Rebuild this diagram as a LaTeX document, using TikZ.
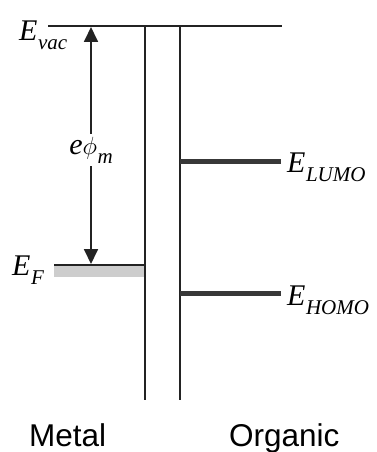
\documentclass[tikz,border=0pt]{standalone}
\usepackage{fontspec}
\setmainfont{Liberation Serif}
\setsansfont{Liberation Sans}
\usetikzlibrary{arrows.meta, positioning, calc}
\definecolor{lineclr}{RGB}{35, 35, 35}
\definecolor{bandclr}{RGB}{205, 205, 205}
\newcommand{\lvlsub}[1]{\kern0.5pt\raisebox{-0.3em}{\fontsize{21}{21}\selectfont #1}}
\tikzset{
    x=1pt, y=-1pt,
    level/.style={line width=1.8pt, draw=lineclr},
    wall/.style={line width=1.8pt, draw=lineclr},
    orbital/.style={line width=5pt, draw=black!78},
    energy/.style={font=\fontsize{30}{31}\selectfont\itshape, inner sep=0pt},
    side/.style={font=\fontsize{31.5}{33}\selectfont\sffamily, inner sep=0pt},
    dblarrow/.style={{Triangle[length=15pt, width=14pt]}-{Triangle[length=15pt, width=14pt]}, line width=1.8pt, draw=lineclr}
}

\begin{document}
\begin{tikzpicture}

    \useasboundingbox (0,0) rectangle (376,452);

    % Levels
    \coordinate (vacL) at (48,26);
    \coordinate (vacR) at (282,26);
    \coordinate (fermiL) at (54,265);
    \coordinate (fermiR) at (145,265);
    \coordinate (wallAtop) at (145,26);
    \coordinate (wallAbot) at (145,400);
    \coordinate (wallBtop) at (180,26);
    \coordinate (wallBbot) at (180,400);
    \coordinate (lumoL) at (180,161);
    \coordinate (lumoR) at (281,161);
    \coordinate (homoL) at (180,293);
    \coordinate (homoR) at (281,293);
    \coordinate (arrTop) at (91,27);
    \coordinate (arrBot) at (91,264);

    % Filled band under E_F
    \fill [bandclr] (54,266) rectangle (145,277);

    \draw [level] (vacL) -- (vacR);
    \draw [level] (fermiL) -- (fermiR);
    \draw [wall] (wallAtop) -- (wallAbot);
    \draw [wall] (wallBtop) -- (wallBbot);
    \draw [orbital] (lumoL) -- (lumoR);
    \draw [orbital] (homoL) -- (homoR);

    % Work function
    \draw [dblarrow] (arrTop) -- (arrBot);
    \node (workfn) [energy, fill=white, inner sep=3pt, anchor=base] at (91,154) {e$\phi$\lvlsub{m}};

    % LABELS
    \node (evac) [energy, anchor=base west] at (19,41) {E\lvlsub{vac}};
    \node (efermi) [energy, anchor=base west] at (12,275) {E\lvlsub{F}};
    \node (elumo) [energy, anchor=base west] at (287,172) {E\lvlsub{LUMO}};
    \node (ehomo) [energy, anchor=base west] at (287,305) {E\lvlsub{HOMO}};

    \node (metal) [side, anchor=base west] at (29,446) {Metal};
    \node (organic) [side, anchor=base west] at (229,446) {Organic};

\end{tikzpicture}
\end{document}
